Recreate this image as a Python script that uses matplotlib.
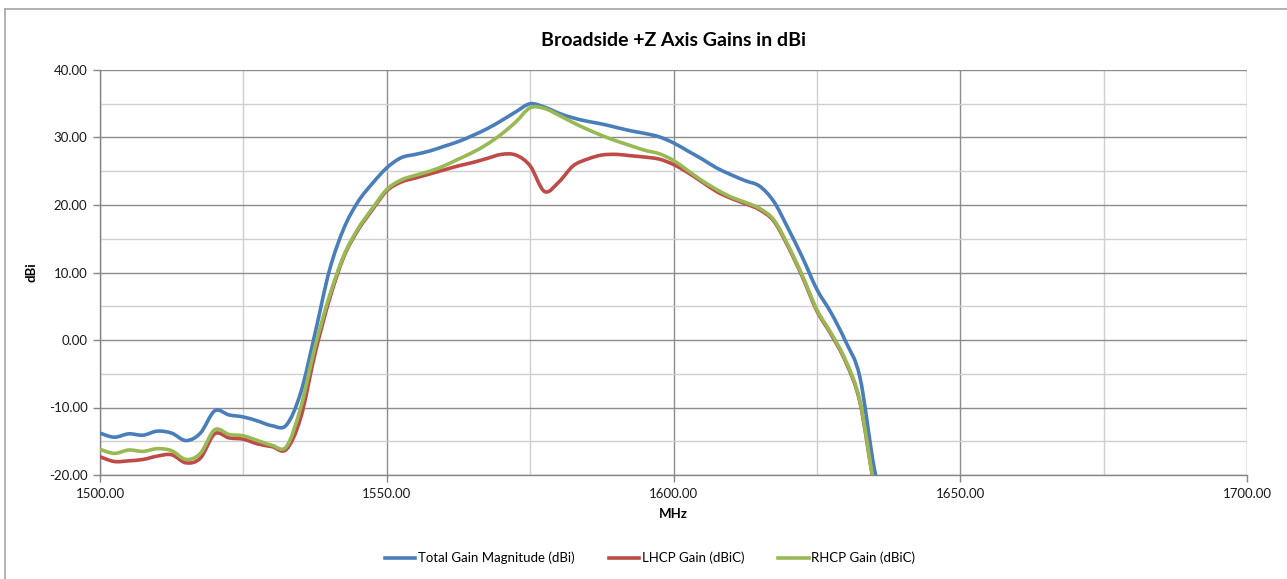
import matplotlib
matplotlib.use("Agg")
import matplotlib.pyplot as plt
from matplotlib.ticker import MultipleLocator, FormatStrFormatter
from matplotlib.lines import Line2D
from matplotlib.path import Path
from matplotlib.patches import PathPatch

plt.rcParams['font.family'] = ['Lato', 'DejaVu Sans']

freq = [1500, 1502.5, 1505, 1507.5, 1510, 1512.5, 1515, 1517.5, 1520, 1522.5,
        1525, 1527.5, 1530, 1532.5, 1535, 1537.5, 1540, 1542.5, 1545, 1547.5,
        1550, 1552.5, 1555, 1557.5, 1560, 1562.5, 1565, 1567.5, 1570, 1572.5,
        1575, 1577.5, 1580, 1582.5, 1585, 1587.5, 1590, 1592.5, 1595, 1597.5,
        1600, 1602.5, 1605, 1607.5, 1610, 1612.5, 1615, 1617.5, 1620, 1622.5,
        1625, 1627.5, 1630, 1632.5, 1635, 1637.5]

total_gain = [-13.8, -14.4, -13.9, -14.1, -13.5, -13.8, -14.9, -13.8, -10.5, -11.1,
              -11.4, -12.0, -12.7, -12.6, -7.8, 1.0, 10.3, 16.5, 20.5, 23.2,
              25.5, 27.0, 27.5, 28.0, 28.7, 29.4, 30.3, 31.3, 32.5, 33.8,
              35.0, 34.5, 33.6, 32.9, 32.4, 32.0, 31.5, 31.0, 30.6, 30.1,
              29.2, 28.0, 26.8, 25.5, 24.5, 23.6, 22.8, 20.5, 16.5, 12.2,
              7.5, 4.0, -0.2, -5.5, -19.0, -28.0]

lhcp_gain = [-17.3, -18.0, -17.9, -17.7, -17.2, -17.0, -18.2, -17.5, -13.9, -14.5,
             -14.7, -15.4, -15.8, -16.2, -11.5, -2.0, 6.0, 12.3, 16.3, 19.3,
             22.1, 23.4, 24.0, 24.6, 25.2, 25.8, 26.3, 26.9, 27.5, 27.4,
             25.8, 22.0, 23.4, 25.8, 26.8, 27.4, 27.5, 27.3, 27.1, 26.8,
             26.0, 24.8, 23.4, 22.0, 21.0, 20.2, 19.3, 17.6, 13.8, 9.3,
             4.3, 0.8, -3.2, -9.2, -21.6, -30.0]

rhcp_gain = [-16.2, -16.8, -16.3, -16.5, -16.1, -16.4, -17.7, -16.8, -13.3, -14.0,
             -14.2, -14.9, -15.6, -15.8, -10.0, -1.0, 6.5, 12.5, 16.5, 19.5,
             22.3, 23.7, 24.4, 25.0, 25.8, 26.8, 27.8, 29.0, 30.5, 32.3,
             34.4, 34.3, 33.3, 32.2, 31.2, 30.3, 29.5, 28.8, 28.1, 27.6,
             26.6, 25.1, 23.6, 22.3, 21.2, 20.4, 19.5, 17.8, 14.0, 9.5,
             4.5, 1.0, -3.0, -9.0, -21.5, -30.0]

series_labels = ['Total Gain Magnitude (dBi)', 'LHCP Gain (dBiC)', 'RHCP Gain (dBiC)']
series_colors = ['#4A7EBB', '#BE4B48', '#98B954']


def smooth_path(xs, ys):
    """Excel-style smoothed line: Catmull-Rom segments rendered as cubic Beziers."""
    pts = list(zip(xs, ys))
    n = len(pts)
    verts = [pts[0]]
    codes = [Path.MOVETO]
    for i in range(n - 1):
        p0 = pts[i - 1] if i > 0 else pts[i]
        p1 = pts[i]
        p2 = pts[i + 1]
        p3 = pts[i + 2] if i + 2 < n else pts[i + 1]
        c1 = (p1[0] + (p2[0] - p0[0]) / 6.0, p1[1] + (p2[1] - p0[1]) / 6.0)
        c2 = (p2[0] - (p3[0] - p1[0]) / 6.0, p2[1] - (p3[1] - p1[1]) / 6.0)
        verts += [c1, c2, p2]
        codes += [Path.CURVE4] * 3
    return Path(verts, codes)


W, H = 1287, 579
fig = plt.figure(figsize=(W / 100, H / 100), dpi=100)
fig.patch.set_facecolor('white')

# chart-area border (left and top only visible)
fig.add_artist(Line2D([5 / W, 5 / W], [0, 1 - 9 / H], transform=fig.transFigure,
                      color='#a6a6a6', lw=1.2))
fig.add_artist(Line2D([5 / W, 1], [1 - 9 / H, 1 - 9 / H], transform=fig.transFigure,
                      color='#a6a6a6', lw=1.2))

ax = fig.add_axes([100 / W, (H - 475) / H, (1247 - 100) / W, (475 - 70) / H])

handles = []
for vals, lab, col in zip([total_gain, lhcp_gain, rhcp_gain], series_labels, series_colors):
    patch = PathPatch(smooth_path(freq, vals), facecolor='none', edgecolor=col,
                      lw=2.6, joinstyle='round', capstyle='round', zorder=3,
                      transform=ax.transData)
    ax.add_patch(patch)
    handles.append(Line2D([], [], color=col, lw=2.6, label=lab))

ax.set_xlim(1500, 1700)
ax.set_ylim(-20, 40)
ax.xaxis.set_major_locator(MultipleLocator(50))
ax.xaxis.set_minor_locator(MultipleLocator(25))
ax.yaxis.set_major_locator(MultipleLocator(10))
ax.yaxis.set_minor_locator(MultipleLocator(5))
ax.xaxis.set_major_formatter(FormatStrFormatter('%.2f'))
ax.yaxis.set_major_formatter(FormatStrFormatter('%.2f'))

ax.grid(which='major', color='#8c8c8c', lw=1.0, zorder=0)
ax.grid(which='minor', color='#cfcfcf', lw=1.0, zorder=0)
ax.set_axisbelow(True)

for s in ['top', 'right']:
    ax.spines[s].set_visible(False)
for s in ['left', 'bottom']:
    ax.spines[s].set_color('#868686')
    ax.spines[s].set_linewidth(1.0)

ax.tick_params(which='major', direction='out', length=5, width=1.0, color='#868686',
               labelsize=9.5, labelcolor='#1a1a1a', pad=4)
ax.tick_params(which='minor', length=0)

ax.set_title('Broadside +Z Axis Gains in dBi', fontsize=14, fontweight='bold',
             color='#000000', pad=17)
ax.set_xlabel('MHz', fontsize=9.5, fontweight='bold', labelpad=6)
ax.set_ylabel('dBi', fontsize=9.5, fontweight='bold', labelpad=8)

fig.legend(handles=handles, loc='center', bbox_to_anchor=(650 / W, 1 - 558 / H),
           ncol=3, frameon=False, fontsize=9.5, handlelength=2.3, handletextpad=0.2,
           columnspacing=2.6)

fig.savefig('out.png', dpi=100, facecolor='white')
